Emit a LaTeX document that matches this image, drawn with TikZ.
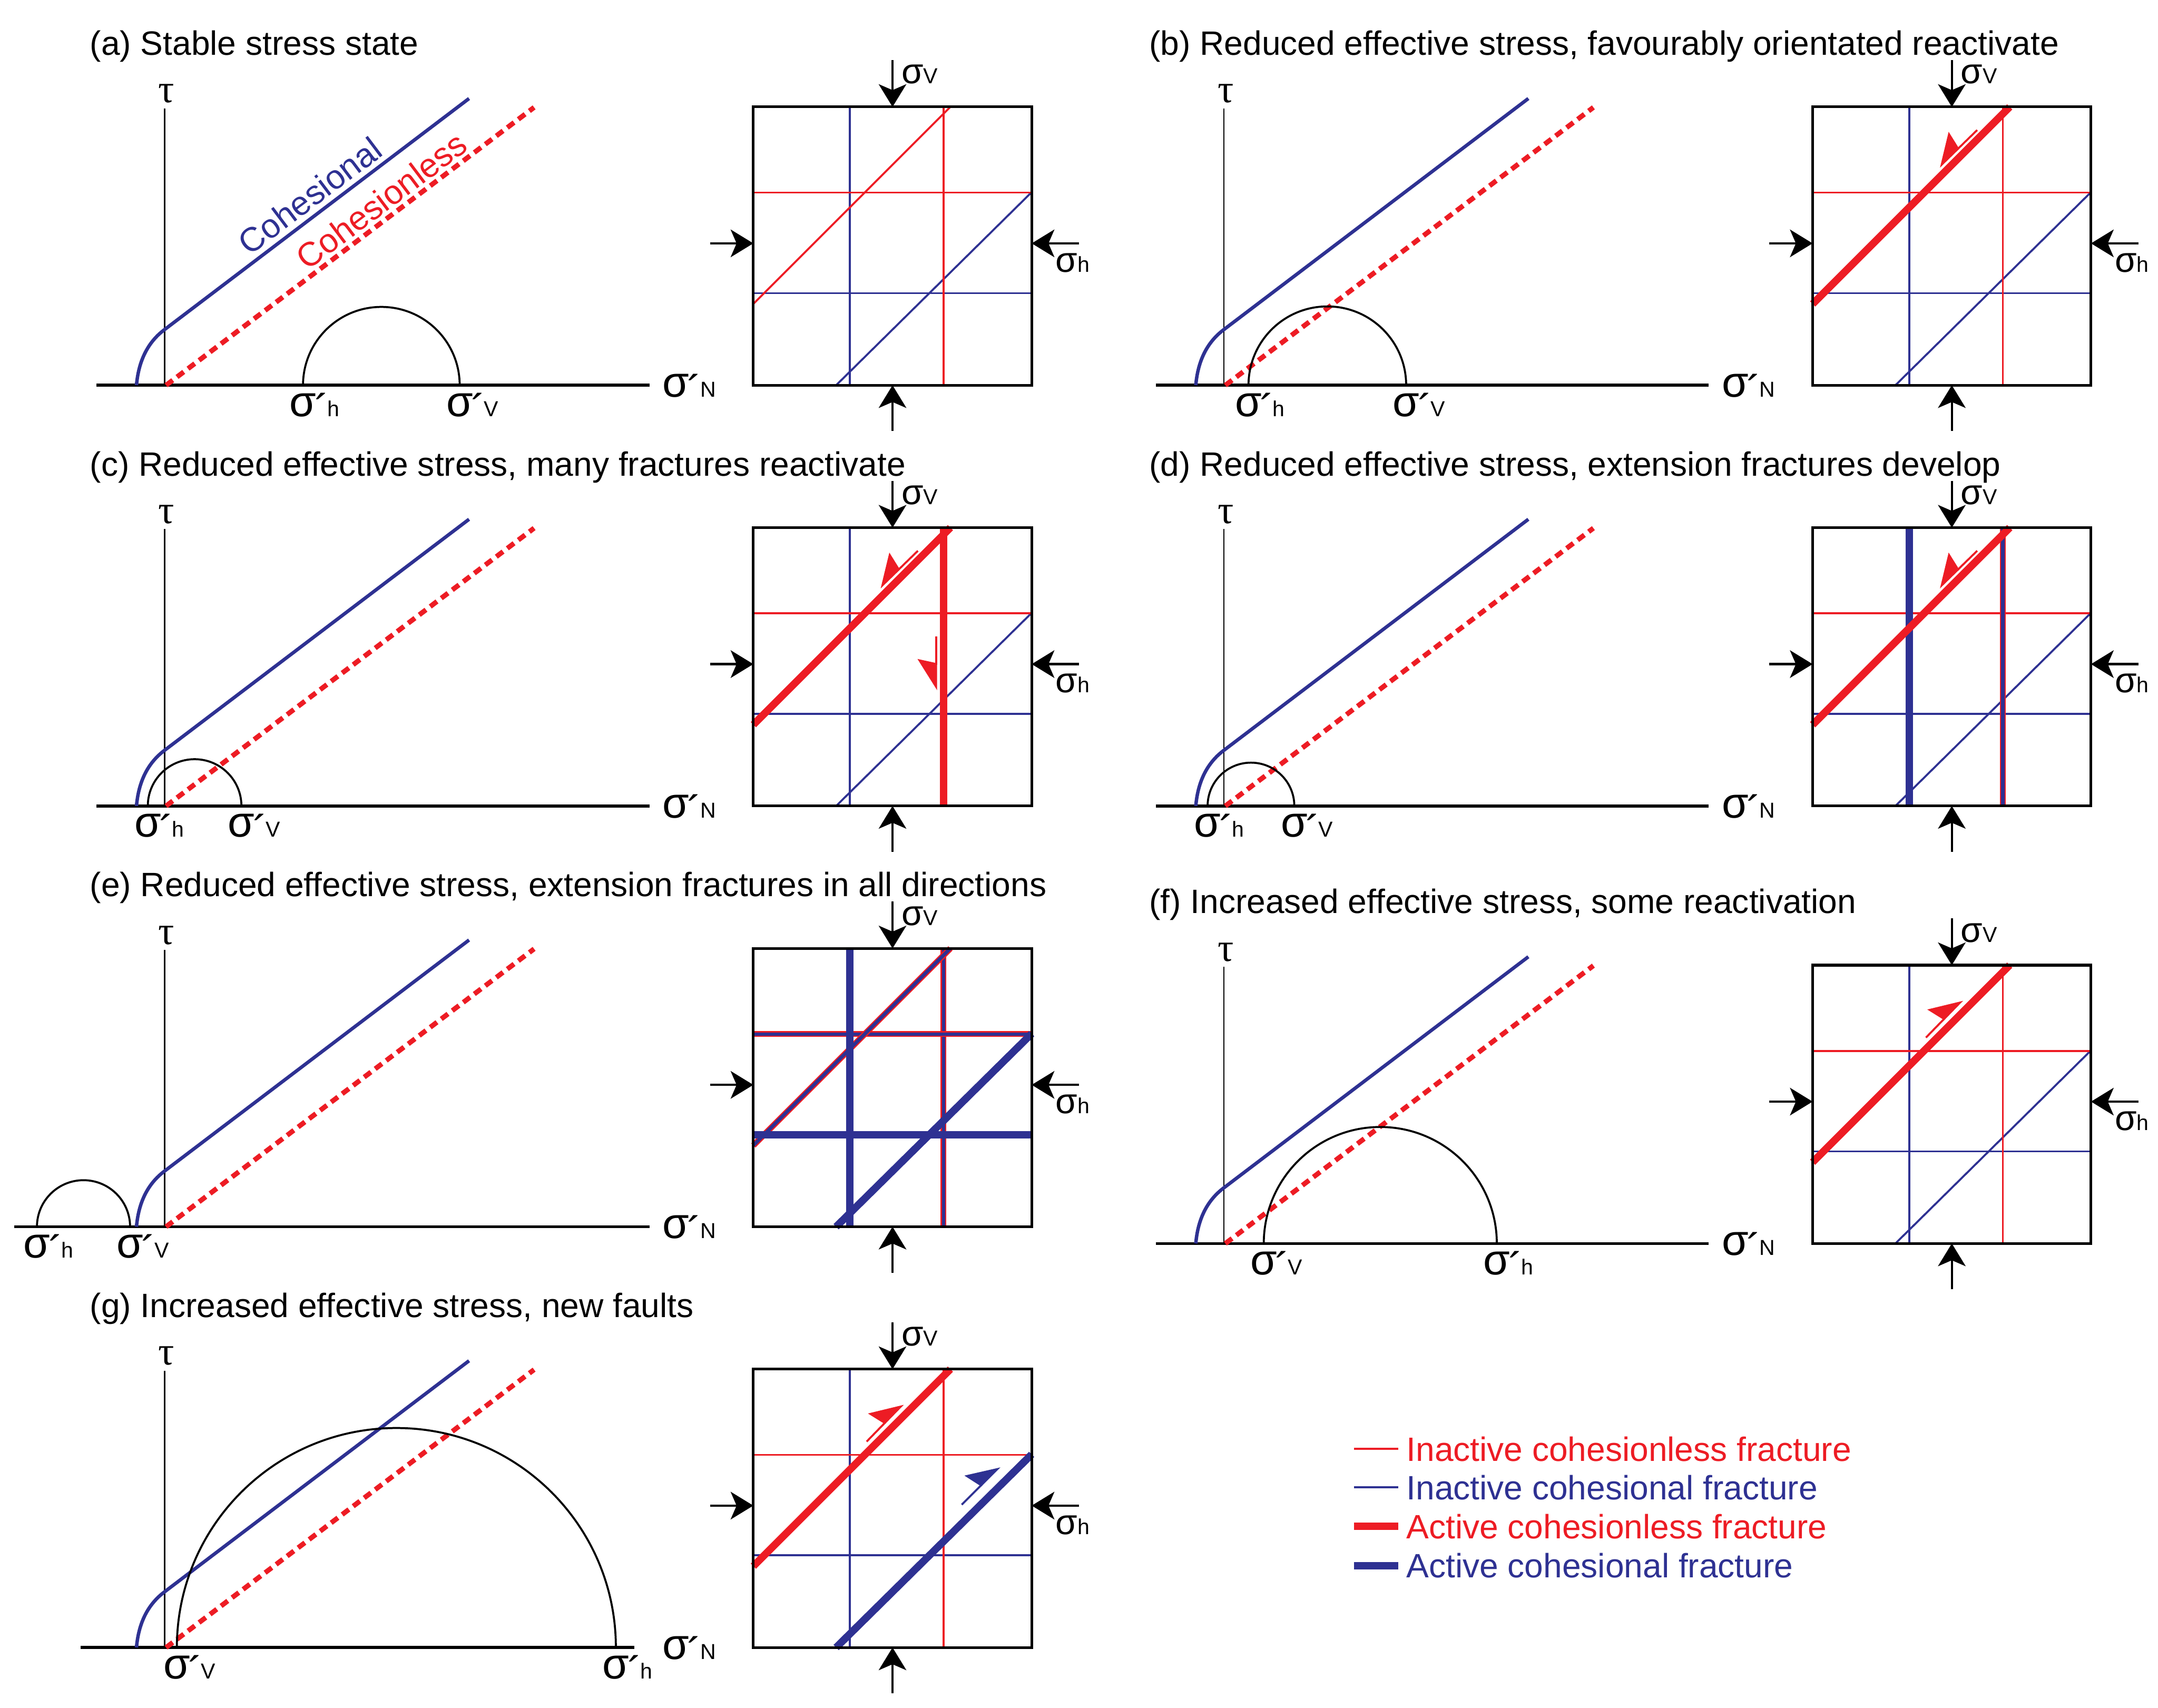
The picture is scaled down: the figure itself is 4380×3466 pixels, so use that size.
\documentclass[tikz,border=0pt]{standalone}
\usepackage{fontspec}
\setmainfont{Liberation Sans}
\newfontfamily\taufont{Liberation Serif}
\usetikzlibrary{arrows.meta}
\definecolor{fracred}{RGB}{237,28,36}
\definecolor{fracblue}{RGB}{46,49,146}
\newcommand{\sigmark}[1]{\fontsize{25}{25}\selectfont σ\rlap{\kern-1pt\raisebox{-5pt}{´}\kern-1pt\fontsize{12.5}{12.5}\selectfont #1}}
\newcommand{\sigbox}[1]{{\fontsize{20.5}{20.5}\selectfont σ}{\fontsize{12.5}{12.5}\selectfont #1}}

\begin{document}
\begin{tikzpicture}[x=0.1mm, y=0.1mm,
    every node/.style={font=\fontsize{19.5}{23}\selectfont, inner sep=0pt},
    axisn/.style={line width=0.6mm},
    axist/.style={line width=0.3mm},
    cohesional/.style={fracblue, line width=0.7mm},
    cohesionless/.style={fracred, line width=1mm, dash pattern=on 1.7mm off 1.1mm},
    mohrcircle/.style={line width=0.4mm},
    frame/.style={line width=0.55mm},
    inred/.style={fracred, line width=0.4mm},
    inblue/.style={fracblue, line width=0.4mm},
    actred/.style={fracred, line width=1.5mm},
    actblue/.style={fracblue, line width=1.5mm},
    extred/.style={fracred, line width=0.25mm, double=fracblue, double distance=0.7mm},
    stressarrow/.style={line width=0.45mm, -{Stealth[length=4.6mm, width=5.6mm, inset=1.2mm]}},
    slip/.style={line width=0.4mm, -{Stealth[harpoon, length=6mm, width=7.5mm, inset=0.8mm]}},
    slipsw/.style={line width=0.4mm, -{Stealth[harpoon, swap, length=6mm, width=7.5mm, inset=0.8mm]}},
    pics/mohr/.style 2 args={code={
        \draw[axisn] (#1,0) -- (#2,0);
        \draw[axist] (0,0) -- (0,562);
        \node[anchor=south, font=\taufont\fontsize{23}{23}\selectfont] (-tau) at (4,572) {τ};
        \draw[cohesional] (-57,0) .. controls (-52,58) and (-28,92) .. (0,113) -- (618,582);
        \draw[cohesionless] (3,0) -- (750,564);
        \node[anchor=base west] (-sn) at (1010,-24) {\sigmark{N}};
    }},
    pics/stressbox/.style={code={
        \draw[frame] (0,0) rectangle (565,565);
        \coordinate (-top) at (282.5,565);
        \coordinate (-bot) at (282.5,0);
        \coordinate (-lft) at (0,288);
        \coordinate (-rgt) at (565,288);
        \draw[stressarrow] (282.5,660) -- (-top);
        \draw[stressarrow] (282.5,-93) -- (-bot);
        \draw[stressarrow] (-88,288) -- (-lft);
        \draw[stressarrow] (661,288) -- (-rgt);
        \node[anchor=base west] (-sv) at (300,612) {\sigbox{V}};
        \node[anchor=base west] (-sh) at (613,230) {\sigbox{h}};
    }}]
\useasboundingbox (0,0) rectangle (4380,3466);

% (a)
\begin{scope}[shift={(334,2684)}]
    \node[anchor=west] (titlea) at (-152,688) {(a) Stable stress state};
    \pic (ma) {mohr={-138}{984}};
    \draw[mohrcircle] (281,0) arc[start angle=180, end angle=0, radius=159];
    \node[anchor=base] (sha) at (281,-63) {\sigmark{h}};
    \node[anchor=base] (sva) at (599,-63) {\sigmark{V}};
    \node[fracblue, rotate=37] (coh) at (295,385) {Cohesional};
    \node[fracred, rotate=37] (cohless) at (440,375) {Cohesionless};
    \begin{scope}[shift={(1195,0)}]
        \draw[inblue] (196,0) -- (196,565);
        \draw[inblue] (0,187) -- (565,187);
        \draw[inblue] (168,0) -- (565,392);
        \draw[inred] (386,0) -- (386,565);
        \draw[inred] (0,391) -- (565,391);
        \draw[inred] (0,165) -- (400,565);
        \pic (ba) {stressbox};
    \end{scope}
\end{scope}

% (b)
\begin{scope}[shift={(2484,2684)}]
    \node[anchor=west] (titleb) at (-152,688) {(b) Reduced effective stress, favourably orientated reactivate};
    \pic (mb) {mohr={-138}{984}};
    \draw[mohrcircle] (50,0) arc[start angle=180, end angle=0, radius=160];
    \node[anchor=base] (shb) at (50,-63) {\sigmark{h}};
    \node[anchor=base] (svb) at (370,-63) {\sigmark{V}};
    \begin{scope}[shift={(1195,0)}]
        \draw[inblue] (196,0) -- (196,565);
        \draw[inblue] (0,187) -- (565,187);
        \draw[inblue] (168,0) -- (565,392);
        \draw[inred] (386,0) -- (386,565);
        \draw[inred] (0,391) -- (565,391);
        \draw[actred] (0,165) -- (400,565);
        \draw[slipsw, fracred] (334,518) -- (257,443);
        \pic (bb) {stressbox};
    \end{scope}
\end{scope}

% (c)
\begin{scope}[shift={(334,1830)}]
    \node[anchor=west] (titlec) at (-152,688) {(c) Reduced effective stress, many fractures reactivate};
    \pic (mc) {mohr={-138}{984}};
    \draw[mohrcircle] (-34,0) arc[start angle=180, end angle=0, radius=95];
    \node[anchor=base] (shc) at (-34,-63) {\sigmark{h}};
    \node[anchor=base] (svc) at (156,-63) {\sigmark{V}};
    \begin{scope}[shift={(1195,0)}]
        \draw[inblue] (196,0) -- (196,565);
        \draw[inblue] (0,187) -- (565,187);
        \draw[inblue] (168,0) -- (565,392);
        \draw[inred] (0,391) -- (565,391);
        \draw[actred] (386,0) -- (386,565);
        \draw[actred] (0,165) -- (400,565);
        \draw[slipsw, fracred] (334,518) -- (257,443);
        \draw[slipsw, fracred] (371,344) -- (371,235);
        \pic (bc) {stressbox};
    \end{scope}
\end{scope}

% (d)
\begin{scope}[shift={(2484,1830)}]
    \node[anchor=west] (titled) at (-152,688) {(d) Reduced effective stress, extension fractures develop};
    \pic (md) {mohr={-138}{984}};
    \draw[mohrcircle] (-33,0) arc[start angle=180, end angle=0, radius=88];
    \node[anchor=base] (shd) at (-33,-63) {\sigmark{h}};
    \node[anchor=base] (svd) at (143,-63) {\sigmark{V}};
    \begin{scope}[shift={(1195,0)}]
        \draw[inblue] (0,187) -- (565,187);
        \draw[inblue] (168,0) -- (565,392);
        \draw[inred] (0,391) -- (565,391);
        \draw[actblue] (196,0) -- (196,565);
        \draw[extred] (386,0) -- (386,565);
        \draw[actred] (0,165) -- (400,565);
        \draw[slipsw, fracred] (334,518) -- (257,443);
        \pic (bd) {stressbox};
    \end{scope}
\end{scope}

% (e)
\begin{scope}[shift={(334,976)}]
    \node[anchor=west] (titlee) at (-152,688) {(e) Reduced effective stress, extension fractures in all directions};
    \pic (me) {mohr={-305}{984}};
    \draw[mohrcircle] (-259,0) arc[start angle=180, end angle=0, radius=94.5];
    \node[anchor=base] (she) at (-259,-63) {\sigmark{h}};
    \node[anchor=base] (sve) at (-70,-63) {\sigmark{V}};
    \begin{scope}[shift={(1195,0)}]
        \draw[extred] (386,0) -- (386,565);
        \draw[extred] (0,391) -- (565,391);
        \draw[extred] (0,165) -- (400,565);
        \draw[actblue] (196,0) -- (196,565);
        \draw[actblue] (0,187) -- (565,187);
        \draw[actblue] (168,0) -- (565,392);
        \pic (be) {stressbox};
    \end{scope}
\end{scope}

% (f)
\begin{scope}[shift={(2484,942)}]
    \node[anchor=west] (titlef) at (-152,688) {(f) Increased effective stress, some reactivation};
    \pic (mf) {mohr={-138}{984}};
    \draw[mohrcircle] (81,0) arc[start angle=180, end angle=0, radius=236.5];
    \node[anchor=base] (svf) at (81,-63) {\sigmark{V}};
    \node[anchor=base] (shf) at (554,-63) {\sigmark{h}};
    \begin{scope}[shift={(1195,0)}]
        \draw[inblue] (196,0) -- (196,565);
        \draw[inblue] (0,187) -- (565,187);
        \draw[inblue] (168,0) -- (565,392);
        \draw[inred] (386,0) -- (386,565);
        \draw[inred] (0,391) -- (565,391);
        \draw[actred] (0,165) -- (400,565);
        \draw[slip, fracred] (230,418) -- (304,494);
        \pic (bf) {stressbox};
    \end{scope}
\end{scope}

% (g)
\begin{scope}[shift={(334,122)}]
    \node[anchor=west] (titleg) at (-152,688) {(g) Increased effective stress, new faults};
    \pic (mg) {mohr={-170}{953}};
    \draw[mohrcircle] (25,0) arc[start angle=180, end angle=0, radius=445.5];
    \node[anchor=base] (svg) at (25,-63) {\sigmark{V}};
    \node[anchor=base] (shg) at (916,-63) {\sigmark{h}};
    \begin{scope}[shift={(1195,0)}]
        \draw[inblue] (196,0) -- (196,565);
        \draw[inblue] (0,187) -- (565,187);
        \draw[inred] (386,0) -- (386,565);
        \draw[inred] (0,391) -- (565,391);
        \draw[actred] (0,165) -- (400,565);
        \draw[actblue] (168,0) -- (565,392);
        \draw[slip, fracred] (230,418) -- (304,494);
        \draw[slip, fracblue] (423,290) -- (500,367);
        \pic (bg) {stressbox};
    \end{scope}
\end{scope}

% legend
\draw[inred] (2748,525) -- (2838,525);
\draw[inblue] (2748,447) -- (2838,447);
\draw[actred] (2748,368) -- (2838,368);
\draw[actblue] (2748,288) -- (2838,288);
\node[anchor=west, fracred] (leg1) at (2854,525) {Inactive cohesionless fracture};
\node[anchor=west, fracblue] (leg2) at (2854,447) {Inactive cohesional fracture};
\node[anchor=west, fracred] (leg3) at (2854,368) {Active cohesionless fracture};
\node[anchor=west, fracblue] (leg4) at (2854,288) {Active cohesional fracture};
\end{tikzpicture}
\end{document}
